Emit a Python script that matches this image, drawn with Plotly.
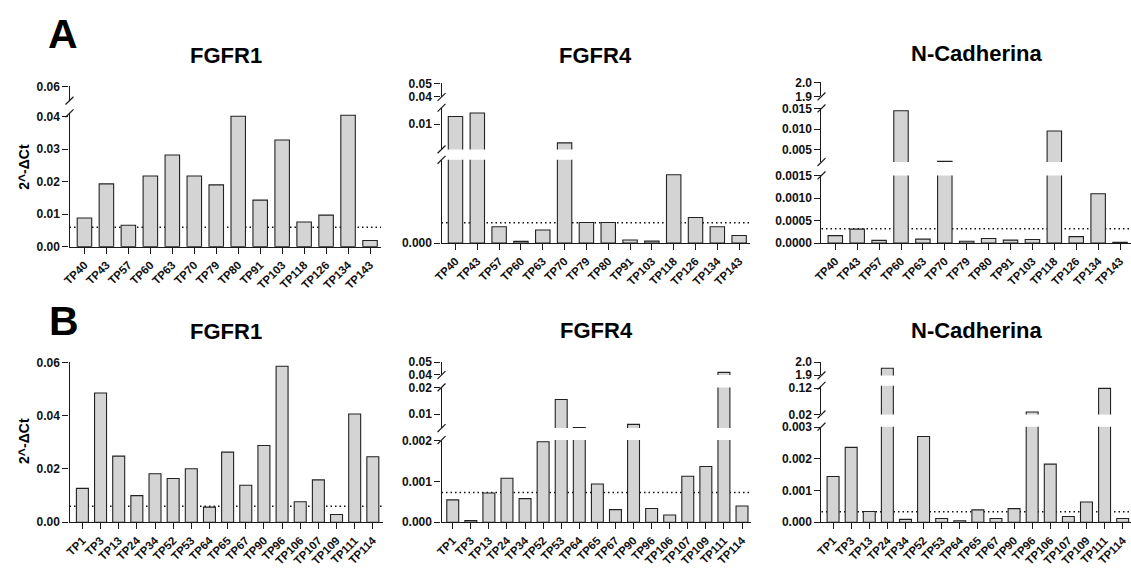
import plotly.graph_objects as go

# ---------------- data ----------------
A_samples = ["TP40", "TP43", "TP57", "TP60", "TP63", "TP70", "TP79", "TP80",
             "TP91", "TP103", "TP118", "TP126", "TP134", "TP143"]
A_fgfr1 = [0.0088, 0.0193, 0.0066, 0.0217, 0.0282, 0.0217, 0.0190, 0.0401,
           0.0143, 0.0328, 0.0076, 0.0097, 0.0404, 0.0019]
A_fgfr4 = [0.01147, 0.01217, 0.00059, 0.00006, 0.00047, 0.00629, 0.00074, 0.00074,
           0.00011, 0.00007, 0.00246, 0.00092, 0.00059, 0.00027]
A_ncad = [0.000166, 0.00031, 0.00006, 0.0145, 0.000087, 0.00217, 0.00004, 0.0001,
          0.000065, 0.00008, 0.00956, 0.000144, 0.0011, 0.000014]

B_samples = ["TP1", "TP3", "TP13", "TP24", "TP34", "TP52", "TP53", "TP64", "TP65",
             "TP67", "TP90", "TP96", "TP106", "TP107", "TP109", "TP111", "TP114"]
B_fgfr1 = [0.0127, 0.0485, 0.0248, 0.0100, 0.0182, 0.0164, 0.0201, 0.0057, 0.0263,
           0.0139, 0.0288, 0.0585, 0.0077, 0.0159, 0.0029, 0.0406, 0.0246]
B_fgfr4 = [0.00055, 0.00004, 0.00072, 0.00108, 0.00058, 0.00198, 0.0155, 0.0049, 0.00094,
           0.00031, 0.0061, 0.00034, 0.00018, 0.00113, 0.00137, 0.042, 0.0004]
B_ncad = [0.00144, 0.00236, 0.00034, 1.954, 0.00009, 0.0027, 0.00012, 0.00005, 0.00039,
          0.00012, 0.00043, 0.0289, 0.00183, 0.00018, 0.00064, 0.119, 0.00012]

thr_fgfr1 = 0.006
thr_fgfr4 = 0.00073
thr_ncad_A = 0.000317
thr_ncad_B = 0.00033

titles = ["FGFR1", "FGFR4", "N-Cadherina"]
row_labels = ["A", "B"]
y_title = "2^-ΔCt"

# ---------------- layout config (pixels) ----------------
W, H = 1131, 568


def PX(p):
    return p / W


def PY(p):
    return 1 - p / H


def bold(lst):
    return [f"<b>{t}</b>" for t in lst]


panels = [
    dict(samples=A_samples, values=A_fgfr1, thr=thr_fgfr1, x0=61, x1=375, xr=[-0.68, 13.5],
         segs=[dict(b=245.7, t=109, r=[0, 0.0410], tv=[0, 0.01, 0.02, 0.03, 0.04],
                    tt=["0.00", "0.01", "0.02", "0.03", "0.04"]),
               dict(b=96, t=81.5, r=[0.05565, 0.0601], tv=[0.06], tt=["0.06"])]),
    dict(samples=A_samples, values=A_fgfr4, thr=thr_fgfr4, x0=436, x1=747, xr=[-0.64, 13.5],
         segs=[dict(b=242, t=156.7, r=[0, 0.003], tv=[0], tt=["0.000"]),
               dict(b=146, t=103.3, r=[0.005, 0.0132], tv=[0.01], tt=["0.01"]),
               dict(b=92.3, t=78.3, r=[0.0399, 0.0501], tv=[0.04, 0.05], tt=["0.04", "0.05"])]),
    dict(samples=A_samples, values=A_ncad, thr=thr_ncad_A, x0=819, x1=1131, xr=[-0.63, 13.5],
         segs=[dict(b=242, t=172.7, r=[0, 0.00151], tv=[0, 0.0005, 0.001, 0.0015],
                    tt=["0.0000", "0.0005", "0.0010", "0.0015"]),
               dict(b=159, t=104, r=[0.002, 0.01505], tv=[0.005, 0.01, 0.015],
                    tt=["0.005", "0.010", "0.015"]),
               dict(b=91.7, t=77.3, r=[1.899, 2.001], tv=[1.9, 2.0], tt=["1.9", "2.0"])]),
    dict(samples=B_samples, values=B_fgfr1, thr=thr_fgfr1, x0=61, x1=377, xr=[-0.71, 16.56],
         segs=[dict(b=528.3, t=364, r=[0, 0.0601], tv=[0, 0.02, 0.04, 0.06],
                    tt=["0.00", "0.02", "0.04", "0.06"])]),
    dict(samples=B_samples, values=B_fgfr4, thr=thr_fgfr4, x0=436, x1=748, xr=[-0.62, 16.5],
         segs=[dict(b=528.3, t=444, r=[0, 0.00202], tv=[0, 0.001, 0.002],
                    tt=["0.000", "0.001", "0.002"]),
               dict(b=431.7, t=390, r=[0.0047, 0.0201], tv=[0.01, 0.02], tt=["0.01", "0.02"]),
               dict(b=377.3, t=364, r=[0.0399, 0.0501], tv=[0.04, 0.05], tt=["0.04", "0.05"])]),
    dict(samples=B_samples, values=B_ncad, thr=thr_ncad_B, x0=819, x1=1131, xr=[-0.64, 16.46],
         segs=[dict(b=528.3, t=430.3, r=[0, 0.00301], tv=[0, 0.001, 0.002, 0.003],
                    tt=["0.000", "0.001", "0.002", "0.003"]),
               dict(b=417.7, t=388.3, r=[0.0199, 0.129], tv=[0.02, 0.12], tt=["0.02", "0.12"]),
               dict(b=377.7, t=364, r=[1.899, 2.001], tv=[1.9, 2.0], tt=["1.9", "2.0"])]),
]

title_pos = [(218.7, 50), (591, 50), (975.8, 48), (218.7, 333), (592, 332), (975.8, 332)]

FONT = "Liberation Sans"
AX = "#1a1a1a"

fig = go.Figure()
layout = {}
shapes = []
annotations = []
ycount = 0

for pi, P in enumerate(panels):
    xn = pi + 1
    xname = "x" if xn == 1 else f"x{xn}"
    xkey = "xaxis" if xn == 1 else f"xaxis{xn}"
    ynames = []
    for si, s in enumerate(P["segs"]):
        ycount += 1
        yname = "y" if ycount == 1 else f"y{ycount}"
        ykey = "yaxis" if ycount == 1 else f"yaxis{ycount}"
        ynames.append(yname)
        layout[ykey] = dict(
            domain=[PY(s["b"]), PY(s["t"])], range=s["r"], anchor=xname,
            tickmode="array", tickvals=s["tv"], ticktext=bold(s["tt"]),
            showline=True, linecolor=AX, linewidth=1.3,
            ticks="outside", ticklen=6, tickwidth=1.3, tickcolor=AX,
            showgrid=False, zeroline=False, fixedrange=True,
            tickfont=dict(family=FONT, size=12, color="#111"),
        )
        fig.add_trace(go.Bar(
            x=P["samples"], y=P["values"], xaxis=xname, yaxis=yname,
            width=0.66, marker=dict(color="#d4d4d4", line=dict(color="#222", width=1.1)),
            showlegend=False, hoverinfo="x+y",
        ))
    layout[xkey] = dict(
        domain=[PX(P["x0"]), PX(P["x1"])], anchor=ynames[0], type="category",
        range=P["xr"], showline=True, linecolor=AX, linewidth=1.3,
        tickmode="array", tickvals=P["samples"], ticktext=bold(P["samples"]),
        ticks="outside", ticklen=6, tickwidth=1.3, tickcolor=AX, tickangle=-45,
        showgrid=False, zeroline=False, fixedrange=True,
        tickfont=dict(family=FONT, size=11.5, color="#111"),
    )
    # threshold dotted line
    shapes.append(dict(type="line", xref=f"{xname} domain", x0=0, x1=1,
                       yref=ynames[0], y0=P["thr"], y1=P["thr"], layer="below",
                       line=dict(color="#111", width=1.5, dash="1.5px,3px")))
    # break marks
    segs = P["segs"]
    ax_x = P["x0"]
    for si in range(len(segs) - 1):
        for py in (segs[si]["t"], segs[si + 1]["b"]):
            shapes.append(dict(type="line", xref="paper", yref="paper",
                               x0=PX(ax_x - 4), x1=PX(ax_x + 4),
                               y0=PY(py + 4), y1=PY(py - 4),
                               line=dict(color=AX, width=1.2)))
    # title
    tx, ty = title_pos[pi]
    annotations.append(dict(text=f"<b>{titles[pi % 3]}</b>", x=PX(tx), y=PY(ty),
                            xref="paper", yref="paper",
                            xanchor="center", yanchor="middle", showarrow=False,
                            font=dict(family=FONT, size=22, color="#000")))

# row labels and y titles
for lab, (lx, ly), yt in zip(row_labels, [(54, 28), (55, 322)], [164, 445]):
    annotations.append(dict(text=f"<b>{lab}</b>", x=PX(lx), y=PY(ly), xref="paper", yref="paper",
                            xanchor="center", yanchor="middle", showarrow=False,
                            font=dict(family=FONT, size=41, color="#000")))
    annotations.append(dict(text=f"<b>{y_title}</b>", x=PX(15), y=PY(yt), xref="paper",
                            yref="paper", xanchor="center", yanchor="middle", showarrow=False,
                            textangle=-90, font=dict(family=FONT, size=14, color="#000")))

fig.update_layout(
    width=W, height=H, autosize=False,
    margin=dict(l=0, r=0, t=0, b=0),
    paper_bgcolor="white", plot_bgcolor="white",
    showlegend=False, bargap=0.34,
    shapes=shapes, annotations=annotations,
    **layout,
)

fig.write_html("out.html")
